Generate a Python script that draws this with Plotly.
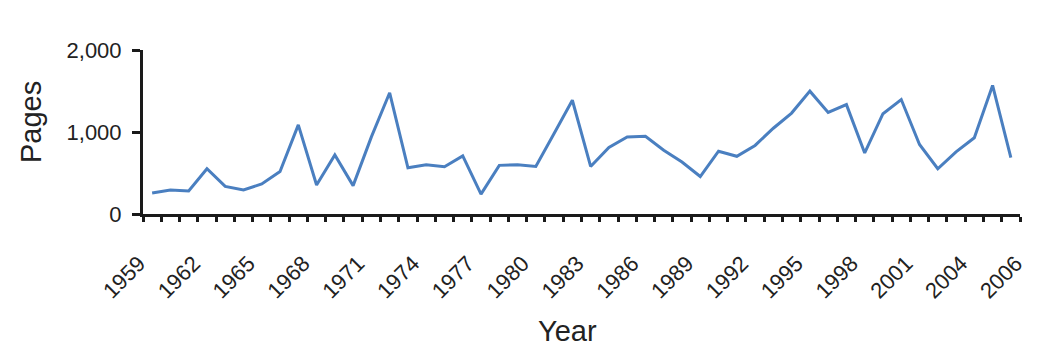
import plotly.graph_objects as go

years = list(range(1959, 2007))
pages = [256, 293, 280, 552, 337, 293, 367, 519, 1087, 354,
         720, 346, 940, 1478, 564, 600, 576, 708, 243, 593,
         601, 580, 982, 1387, 580, 811, 939, 947, 778, 634,
         457, 766, 704, 836, 1046, 1231, 1498, 1239, 1334, 745,
         1223, 1396, 848, 552, 757, 930, 1568, 688]

tick_positions = [1958.5 + 3 * k for k in range(16)] + [2006.5]
tick_labels = [str(1959 + 3 * k) for k in range(16)] + ["2006"]
y_ticks = [0, 1000, 2000]
y_labels = ["0", "1,000", "2,000"]

FONT = "Arial, Liberation Sans, sans-serif"
TXT = "#222222"
AX = "#1a1a1a"

fig = go.Figure()
fig.add_trace(go.Scatter(x=years, y=pages, mode="lines",
                         line=dict(color="#4a7fc0", width=3),
                         showlegend=False, hoverinfo="x+y"))

fig.update_layout(
    width=1048, height=361,
    margin=dict(l=143, r=28, t=50, b=147),
    paper_bgcolor="white", plot_bgcolor="white",
    font=dict(family=FONT, color=TXT),
    xaxis=dict(range=[1958.5, 2006.5], tickmode="array",
               tickvals=tick_positions, ticktext=tick_labels,
               tickangle=-45, ticks="outside", ticklen=5, tickwidth=3,
               tickcolor=AX, showline=True, linecolor=AX, linewidth=3,
               showgrid=False, zeroline=False,
               tickfont=dict(size=22, family=FONT, color=TXT),
               ticklabelstandoff=20, ticklabelshift=-4,
               minor=dict(tickmode="linear", tick0=1958.5, dtick=1,
                          ticks="outside", ticklen=5, tickwidth=3,
                          tickcolor=AX, showgrid=False)),
    yaxis=dict(range=[0, 2000], tickmode="array", tickvals=y_ticks,
               ticktext=y_labels, ticks="outside", ticklen=8, tickwidth=3,
               tickcolor=AX, showline=True, linecolor=AX, linewidth=3,
               showgrid=False, zeroline=False,
               tickfont=dict(size=22, family=FONT, color=TXT),
               ticklabelstandoff=6),
    annotations=[
        dict(text="Year", xref="paper", yref="paper", x=(567 - 143) / 877,
             y=(214 - 331) / 164, xanchor="center", yanchor="middle",
             showarrow=False, font=dict(size=29, family=FONT, color=TXT)),
        dict(text="Pages", xref="paper", yref="paper", x=(31 - 143) / 877,
             y=(214 - 122) / 164, xanchor="center", yanchor="middle",
             textangle=-90, showarrow=False,
             font=dict(size=29, family=FONT, color=TXT)),
    ],
)

fig.write_html("out.html")
